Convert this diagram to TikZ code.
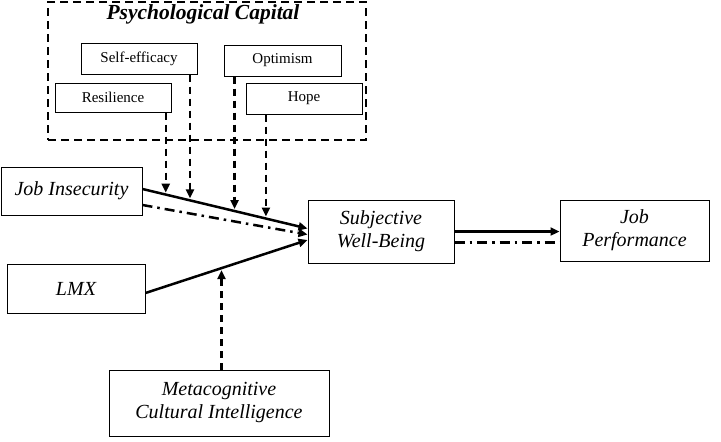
\documentclass[tikz,border=0pt]{standalone}
\usepackage{fontspec}
\setmainfont{Liberation Serif}
\usetikzlibrary{arrows.meta,calc}

\begin{document}
\begin{tikzpicture}[x=1pt,y=-1pt,>={Triangle[length=9pt,width=8pt]},
	smallbox/.style={draw,line width=1pt,inner sep=0pt,font=\fontsize{15}{17}\selectfont},
	bigbox/.style={draw,line width=1pt,inner sep=0pt,align=center,font=\fontsize{20}{23}\selectfont\itshape},
	modline/.style={->,dash pattern=on 7pt off 5pt,line width=2.5pt,shorten >=2pt},
	dashdot/.style={dash pattern=on 10pt off 5pt on 2.5pt off 5pt,line width=2.5pt}]
	\useasboundingbox (0,0) rectangle (721,442);
	
	%psychological capital
	\node[draw,dash pattern=on 8pt off 5pt,line width=2.5pt,minimum width=318pt,minimum height=138pt] (pcap) at (207,71) {};
	\node[font=\fontsize{21.5}{24}\selectfont\bfseries\itshape] (pcaptitle) at (203,14) {Psychological Capital};
	\node[smallbox,minimum width=116pt,minimum height=31pt] (selfeff) at (139,58.5) {Self-efficacy};
	\node[smallbox,minimum width=116pt,minimum height=29pt] (resil) at (113,97.5) {Resilience};
	\node[smallbox,minimum width=117pt,minimum height=31pt] (optim) at (282.5,60.5) {Optimism};
	\node[smallbox,minimum width=116pt,minimum height=31pt] (hope) at (304,98.5) {Hope};
	
	%variables
	\node[bigbox,minimum width=141pt,minimum height=48pt] (jobins) at (71.5,191) {Job Insecurity};
	\node[bigbox,minimum width=138pt,minimum height=49pt] (lmx) at (76,288.5) {LMX};
	\node[bigbox,minimum width=146pt,minimum height=63pt] (swb) at (381,231.5) {Subjective\\Well-Being};
	\node[bigbox,minimum width=149pt,minimum height=61pt] (jobperf) at (634.5,230.5) {Job\\Performance};
	\node[bigbox,minimum width=220pt,minimum height=66pt] (metacog) at (219,403) {Metacognitive\\Cultural Intelligence};
	
	%main paths
	\draw[->,line width=2.5pt] ([yshift=2pt]jobins.east) -- ([yshift=3pt]swb.west)
		coordinate[pos=0.141] (m1) coordinate[pos=0.288] (m2)
		coordinate[pos=0.558] (m3) coordinate[pos=0.748] (m4);
	\draw[->,dashdot] ([yshift=-14pt]jobins.east) -- ([yshift=-3pt]swb.west);
	\draw[->,line width=2.5pt] ([yshift=-4.5pt]lmx.east) -- ([yshift=-8.5pt]swb.west)
		coordinate[pos=0.469] (m5);
	\draw[->,line width=2.5pt] (swb.east) -- (swb.east -| jobperf.west);
	\draw[dashdot] ([yshift=-11pt]swb.east) -- ([yshift=-11pt]swb.east -| jobperf.west);
	
	%moderators
	\draw[modline] (m1 |- resil.south) -- (m1);
	\draw[modline] (m2 |- selfeff.south) -- (m2);
	\draw[modline] (m3 |- optim.south) -- (m3);
	\draw[modline] (m4 |- hope.south) -- (m4);
	\draw[modline] (m5 |- metacog.north) -- (m5);
\end{tikzpicture}
\end{document}
